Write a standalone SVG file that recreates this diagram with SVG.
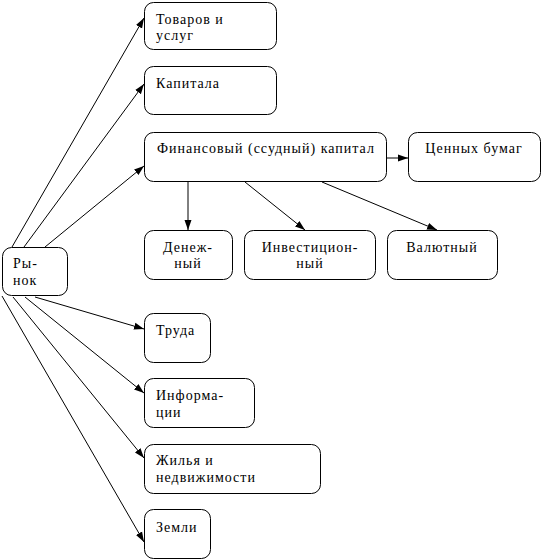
<svg xmlns="http://www.w3.org/2000/svg" width="542" height="560" viewBox="0 0 542 560">
<style>
rect{fill:#fff;stroke:#000;stroke-width:1}
text{font-family:"Liberation Serif","Times New Roman",serif;font-size:14px;fill:#000;letter-spacing:1px}
.c{text-anchor:middle}
#connectors line{stroke:#000;stroke-width:1;marker-end:url(#a)}
</style>
<defs>
<marker id="a" viewBox="0 0 10 10" refX="10" refY="5" markerWidth="10" markerHeight="10" markerUnits="userSpaceOnUse" orient="auto">
<path d="M0,1.5 L10,5 L0,8.5 z" fill="#000"/>
</marker>
</defs>
<rect x="0" y="0" width="542" height="560" style="fill:#fff;stroke:none"/>
<g id="connectors">
<line x1="12" y1="247" x2="144" y2="18"/>
<line x1="24" y1="247" x2="144" y2="84"/>
<line x1="45" y1="247" x2="144" y2="166"/>
<line x1="35" y1="297" x2="144" y2="329"/>
<line x1="25" y1="297" x2="144" y2="393"/>
<line x1="13" y1="297" x2="144" y2="458"/>
<line x1="2" y1="296" x2="144" y2="542"/>
<line x1="387" y1="158" x2="408" y2="158"/>
<line x1="188" y1="182" x2="188" y2="230"/>
<line x1="245" y1="182" x2="305" y2="230"/>
<line x1="322" y1="182" x2="437" y2="230"/>
</g>
<g id="n-tovarov"><rect x="144.5" y="2.5" width="132" height="47" rx="9"/><text x="156" y="24">Товаров и</text><text x="156" y="40">услуг</text></g>
<g id="n-kapitala"><rect x="144.5" y="66.5" width="132" height="48" rx="9"/><text x="156" y="88">Капитала</text></g>
<g id="n-fin"><rect x="144.5" y="132.5" width="242" height="49" rx="9"/><text x="157" y="153">Финансовый (ссудный) капитал</text></g>
<g id="n-cennyh"><rect x="408.5" y="132.5" width="132" height="49" rx="9"/><text class="c" x="474" y="153">Ценных бумаг</text></g>
<g id="n-denezh"><rect x="144.5" y="230.5" width="88" height="49" rx="9"/><text class="c" x="188" y="252">Денеж-</text><text class="c" x="188" y="268">ный</text></g>
<g id="n-invest"><rect x="244.5" y="230.5" width="131" height="49" rx="9"/><text class="c" x="310" y="252">Инвестицион-</text><text class="c" x="310" y="268">ный</text></g>
<g id="n-valut"><rect x="387.5" y="230.5" width="110" height="49" rx="9"/><text class="c" x="442" y="252">Валютный</text></g>
<g id="n-rynok"><rect x="2.5" y="247.5" width="65" height="48" rx="9"/><text x="13" y="268">Ры-</text><text x="13" y="285">нок</text></g>
<g id="n-truda"><rect x="144.5" y="313.5" width="66" height="49" rx="9"/><text x="156" y="335">Труда</text></g>
<g id="n-inform"><rect x="144.5" y="378.5" width="110" height="49" rx="9"/><text x="156" y="400">Информа-</text><text x="156" y="417">ции</text></g>
<g id="n-zhilya"><rect x="144.5" y="444.5" width="176" height="49" rx="9"/><text x="156" y="465">Жилья и</text><text x="156" y="482">недвижимости</text></g>
<g id="n-zemli"><rect x="144.5" y="509.5" width="66" height="49" rx="9"/><text x="156" y="532">Земли</text></g>
</svg>
